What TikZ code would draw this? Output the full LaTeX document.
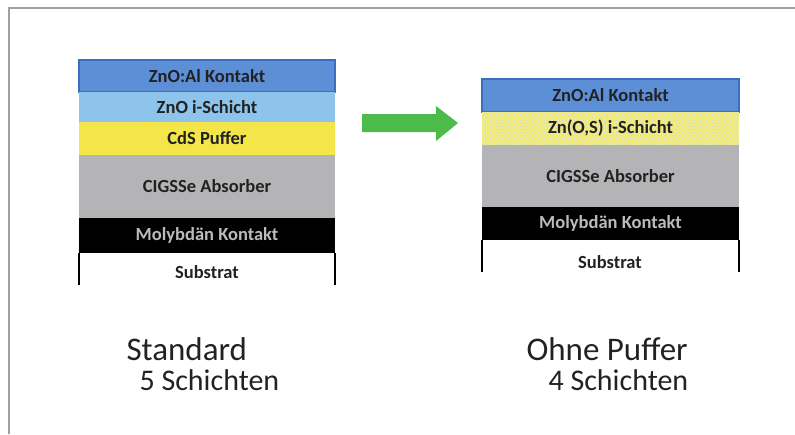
\documentclass[tikz,border=0pt]{standalone}
\usepackage{fontspec}
\setmainfont{Carlito}
\usetikzlibrary{patterns}
\definecolor{kontaktblau}{HTML}{5D8FD7}
\definecolor{randblau}{HTML}{3D6CC0}
\definecolor{hellblau}{HTML}{8EC4EB}
\definecolor{puffergelb}{HTML}{F3E54A}
\definecolor{absorbergrau}{HTML}{B4B4B6}
\definecolor{molygrau}{HTML}{BBBBBB}
\definecolor{pfeilgruen}{HTML}{4DBB4A}
\definecolor{rahmengrau}{HTML}{A0A0A0}
\definecolor{textgrau}{HTML}{222222}
\tikzset{schicht/.style={font=\fontsize{18.5}{22}\selectfont\bfseries,text=textgrau},
  titel/.style={anchor=base west,font=\fontsize{33}{36}\selectfont,text=textgrau},
  anzahl/.style={anchor=base west,font=\fontsize{30}{33}\selectfont,text=textgrau}}

\begin{document}
\begin{tikzpicture}[x=1pt,y=-1pt]
                \useasboundingbox (0,0) rectangle (795,434);
                \draw[rahmengrau,line width=1.2pt] (9,434) -- (9,8) -- (795,8);
                % Standard
                \draw[fill=kontaktblau,draw=randblau,line width=1.2pt] (79,60) rectangle node[schicht] (zaoA) {ZnO:Al Kontakt} (335,92);
                \fill[hellblau] (79,92) rectangle node[schicht] (znoA) {ZnO i-Schicht} (335,122);
                \fill[puffergelb] (79,122) rectangle node[schicht] (cdsA) {CdS Puffer} (335,155);
                \fill[absorbergrau] (79,155) rectangle node[schicht] (cigA) {CIGSSe Absorber} (335,218);
                \fill[black] (79,218) rectangle node[schicht,text=molygrau] (moA) {Molybdän Kontakt} (335,253);
                \draw[line width=1.5pt] (79,253) -- (79,285) (335,253) -- (335,285);
                \node[schicht] (subA) at (207,272) {Substrat};
                % Pfeil
                \fill[pfeilgruen] (362,114) -- (436,114) -- (436,106) -- (458,123) -- (436,141) -- (436,132) -- (362,132) -- cycle;
                % Ohne Puffer
                \draw[fill=kontaktblau,draw=randblau,line width=1.2pt] (482,79) rectangle node[schicht] (zaoB) {ZnO:Al Kontakt} (739,112);
                \fill[puffergelb!75!white] (482,112) rectangle (739,145);
                \fill[pattern=crosshatch dots,pattern color=hellblau!60!white] (482,112) rectangle node[schicht] (znosB) {Zn(O,S) i-Schicht} (739,145);
                \fill[absorbergrau] (482,145) rectangle node[schicht] (cigB) {CIGSSe Absorber} (739,207);
                \fill[black] (482,207) rectangle node[schicht,text=molygrau] (moB) {Molybdän Kontakt} (739,240);
                \draw[line width=1.5pt] (482,240) -- (482,272) (739,240) -- (739,272);
                \node[schicht] (subB) at (610,262) {Substrat};
                % Beschriftung
                \node[titel] (stdA) at (123,360) {Standard};
                \node[anzahl] (anzA) at (136,390) {5 Schichten};
                \node[titel] (stdB) at (523,360) {Ohne Puffer};
                \node[anzahl] (anzB) at (545,390) {4 Schichten};
            \end{tikzpicture}
\end{document}
